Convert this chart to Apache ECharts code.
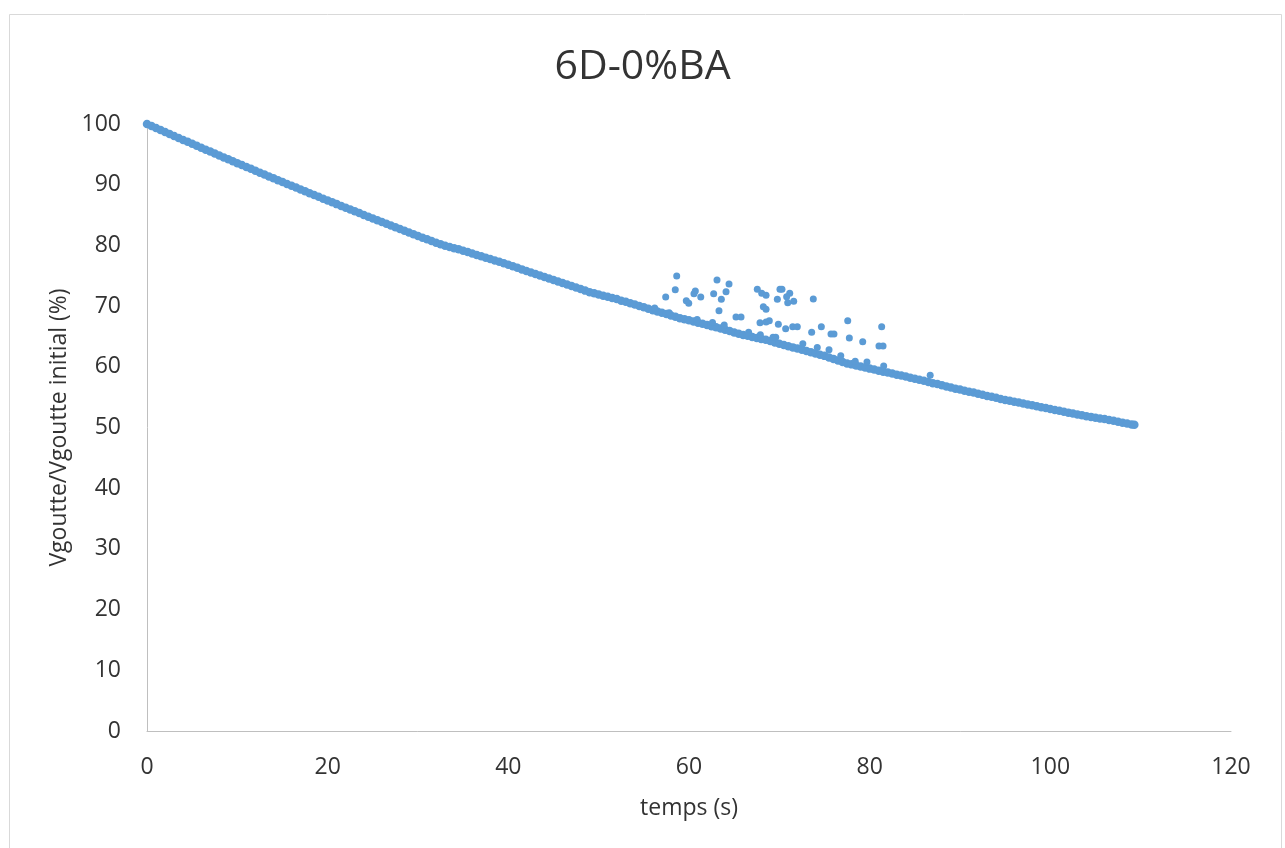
<!DOCTYPE html>
<html>
<head>
<meta charset="utf-8">
<script src="https://cdn.jsdelivr.net/npm/echarts@6/dist/echarts.min.js"></script>
<style>
html,body{margin:0;padding:0;background:#fff;}
#chart{width:1285px;height:848px;}
</style>
</head>
<body>
<div id="chart"></div>
<script>
// Main curve: time (s) and Vgoutte/Vgoutte initial (%)
var timeMain = [0,0.5,1,1.5,2,2.5,3,3.5,4,4.5,5,5.5,6,6.5,7,7.5,8,8.5,9,9.5,10,10.5,11,11.5,12,12.5,13,13.5,14,14.5,15,15.5,16,16.5,17,17.5,18,18.5,19,19.5,20,20.5,21,21.5,22,22.5,23,23.5,24,24.5,25,25.5,26,26.5,27,27.5,28,28.5,29,29.5,30,30.5,31,31.5,32,32.5,33,33.5,34,34.5,35,35.5,36,36.5,37,37.5,38,38.5,39,39.5,40,40.5,41,41.5,42,42.5,43,43.5,44,44.5,45,45.5,46,46.5,47,47.5,48,48.5,49,49.5,50,50.5,51,51.5,52,52.5,53,53.5,54,54.5,55,55.5,56,56.5,57,57.5,58,58.5,59,59.5,60,60.5,61,61.5,62,62.5,63,63.5,64,64.5,65,65.5,66,66.5,67,67.5,68,68.5,69,69.5,70,70.5,71,71.5,72,72.5,73,73.5,74,74.5,75,75.5,76,76.5,77,77.5,78,78.5,79,79.5,80,80.5,81,81.5,82,82.5,83,83.5,84,84.5,85,85.5,86,86.5,87,87.5,88,88.5,89,89.5,90,90.5,91,91.5,92,92.5,93,93.5,94,94.5,95,95.5,96,96.5,97,97.5,98,98.5,99,99.5,100,100.5,101,101.5,102,102.5,103,103.5,104,104.5,105,105.5,106,106.5,107,107.5,108,108.5,109,109.3];
var valueMain = [100.0,99.67,99.34,99.01,98.69,98.36,98.03,97.71,97.38,97.06,96.74,96.42,96.09,95.77,95.45,95.13,94.82,94.5,94.18,93.87,93.55,93.23,92.92,92.61,92.3,91.98,91.67,91.36,91.05,90.75,90.44,90.13,89.82,89.52,89.21,88.91,88.61,88.3,88.0,87.7,87.4,87.1,86.8,86.5,86.21,85.91,85.61,85.32,85.02,84.73,84.44,84.15,83.85,83.56,83.27,82.98,82.7,82.41,82.12,81.84,81.55,81.28,81.0,80.73,80.45,80.2,79.95,79.75,79.55,79.35,79.1,78.9,78.65,78.43,78.2,77.98,77.75,77.52,77.3,77.05,76.8,76.55,76.3,76.05,75.8,75.55,75.3,75.05,74.8,74.55,74.3,74.05,73.8,73.55,73.3,73.05,72.8,72.55,72.3,72.1,71.9,71.7,71.55,71.35,71.15,70.9,70.7,70.45,70.25,70.0,69.8,69.55,69.3,69.1,68.9,68.7,68.45,68.25,68.0,67.85,67.65,67.45,67.25,67.1,66.9,66.7,66.5,66.3,66.1,65.9,65.65,65.45,65.25,65.1,64.9,64.75,64.6,64.45,64.25,64.0,63.8,63.6,63.4,63.2,63.0,62.8,62.6,62.4,62.2,62.0,61.8,61.55,61.3,61.05,60.8,60.55,60.4,60.2,60.05,59.9,59.7,59.55,59.35,59.2,59.05,58.9,58.7,58.55,58.4,58.2,58.05,57.85,57.7,57.5,57.3,57.15,56.95,56.75,56.6,56.4,56.25,56.05,55.9,55.75,55.55,55.4,55.2,55.05,54.9,54.7,54.55,54.4,54.25,54.1,53.95,53.8,53.65,53.5,53.35,53.2,53.05,52.9,52.75,52.6,52.45,52.3,52.15,52.0,51.85,51.75,51.6,51.5,51.4,51.25,51.1,50.95,50.8,50.65,50.5,50.45];
// Points slightly off the band (noise near the curve)
var timeNoise = [56.2,57.8,60.9,62.6,63.9,66.6,67.9,69.3,69.6,72.6,74.2,75.5,76.8,78.4,79.7,81.55,86.7];
var valueNoise = [69.7,68.9,67.8,67.3,66.9,65.7,65.3,64.86,64.86,63.8,63.2,62.8,61.8,60.9,60.8,60.13,58.6];
// Scattered outliers above the curve
var timeOut = [58.64,58.48,57.42,59.70,59.97,60.70,60.55,61.30,63.10,62.73,64.43,64.10,63.58,63.32,65.20,65.76,67.56,68.05,68.53,68.23,68.53,67.86,68.53,70.07,70.29,71.15,70.81,71.59,70.93,69.78,73.76,68.89,69.89,70.70,71.48,71.99,73.58,74.65,75.72,76.05,77.57,77.75,79.23,81.33,81.03,81.48];
var valueOut = [74.96,72.70,71.50,70.89,70.46,72.49,72.04,71.50,74.30,72.04,73.64,72.37,71.12,69.24,68.20,68.20,72.77,72.11,71.78,69.90,69.47,67.27,67.38,72.77,72.77,72.11,71.55,70.79,70.56,71.12,71.17,67.60,67.00,66.28,66.61,66.61,65.68,66.61,65.40,65.40,67.60,64.74,64.14,66.61,63.43,63.43];

var xTicks = {min:0, max:120, interval:20};
var yTicks = {min:0, max:100, interval:10};

function zip(a,b){var r=[];for(var i=0;i<a.length;i++){r.push([a[i],b[i]]);}return r;}
var bandData = zip(timeMain,valueMain);
var dotData = zip(timeNoise,valueNoise).concat(zip(timeOut,valueOut));

var chart = echarts.init(document.getElementById('chart'), null, {renderer:'canvas'});
var font = "'Open Sans', 'Noto Sans', sans-serif";
var txt = '#333333';
chart.setOption({
  animation:false,
  backgroundColor:'#ffffff',
  graphic:[{type:'rect', left:7, top:12, shape:{width:1272, height:850}, style:{fill:'none', stroke:'#d9d9d9', lineWidth:1}, silent:true}],
  title:{text:'6D-0%BA', left:'center', top:42, textStyle:{fontFamily:font, fontSize:41, fontWeight:'normal', color:txt}},
  grid:{left:147, right:54, top:124, bottom:117, containLabel:false},
  xAxis:{type:'value', min:xTicks.min, max:xTicks.max, interval:xTicks.interval,
    name:'temps (s)', nameLocation:'middle', nameGap:66,
    nameTextStyle:{fontFamily:font, fontSize:23, color:txt},
    axisLine:{lineStyle:{color:'#bfbfbf', width:1}}, axisTick:{show:false},
    axisLabel:{fontFamily:font, fontSize:23, color:txt, margin:25},
    splitLine:{show:false}},
  yAxis:{type:'value', min:yTicks.min, max:yTicks.max, interval:yTicks.interval,
    name:'Vgoutte/Vgoutte initial (%)', nameLocation:'middle', nameGap:76,
    nameTextStyle:{fontFamily:font, fontSize:23, color:txt},
    axisLine:{show:true, lineStyle:{color:'#bfbfbf', width:1}}, axisTick:{show:false},
    axisLabel:{fontFamily:font, fontSize:23, color:txt, margin:26},
    splitLine:{show:false}},
  series:[
    {type:'scatter', data:bandData, symbol:'circle', symbolSize:8.5, itemStyle:{color:'#5b9bd5', opacity:1}},
    {type:'scatter', data:dotData, symbol:'circle', symbolSize:7, itemStyle:{color:'#5b9bd5', opacity:1}}
  ]
});
</script>
</body>
</html>
